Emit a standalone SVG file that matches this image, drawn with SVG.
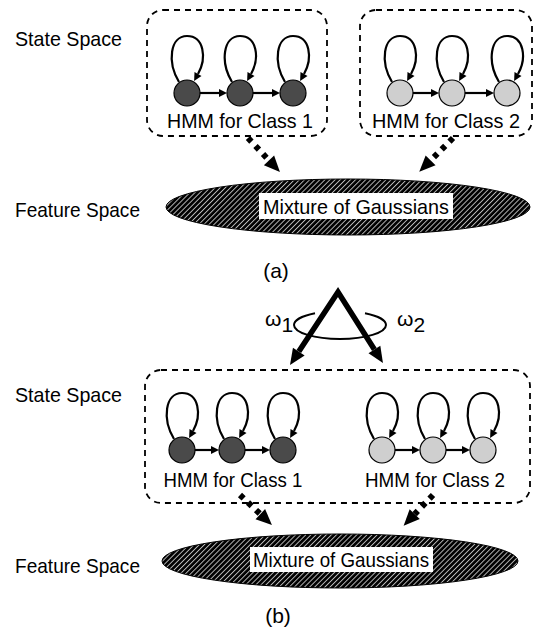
<svg xmlns="http://www.w3.org/2000/svg" width="539" height="634" viewBox="0 0 539 634">
<defs>
<pattern id="hatch" patternUnits="userSpaceOnUse" width="3.6" height="3.6" patternTransform="rotate(45)">
<rect width="3.6" height="3.6" fill="#000"/>
<line x1="0.5" y1="0" x2="0.5" y2="3.6" stroke="#fff" stroke-width="0.7"/>
</pattern>
<marker id="sm" markerUnits="userSpaceOnUse" markerWidth="10" markerHeight="10" refX="0" refY="4" orient="auto" overflow="visible">
<path d="M0,0 L8,4 L0,8 z" fill="#000"/>
</marker>
<marker id="big" markerUnits="userSpaceOnUse" markerWidth="20" markerHeight="20" refX="0" refY="7" orient="auto" overflow="visible">
<path d="M0,0 L16,7 L0,14 z" fill="#000"/>
</marker>
<marker id="bigs" markerUnits="userSpaceOnUse" markerWidth="20" markerHeight="20" refX="0" refY="7" orient="auto-start-reverse" overflow="visible">
<path d="M0,0 L16,7 L0,14 z" fill="#000"/>
</marker>
</defs>
<style>
text{font-family:"Liberation Sans",Arial,sans-serif;fill:#000}
.lbl{font-size:21px}
.box{fill:none;stroke:#000;stroke-width:1.8;stroke-dasharray:6 5}
.c1{fill:#4a4a4a;stroke:#000;stroke-width:1.2}
.c2{fill:#cfcfcf;stroke:#000;stroke-width:1.2}
.loop{fill:none;stroke:#000;stroke-width:2.2}
.tr{fill:none;stroke:#000;stroke-width:2.2}
.dash{fill:none;stroke:#000;stroke-width:6;stroke-dasharray:5 6}
.ell{fill:url(#hatch);stroke:#000;stroke-width:1}
.lab{fill:#fff;stroke:none}
.thick{fill:none;stroke:#000;stroke-width:5.5;stroke-linejoin:miter}
.ring{fill:none;stroke:#000;stroke-width:2}
</style>

<!-- side labels -->
<text class="lbl" x="15" y="46" textLength="107" lengthAdjust="spacingAndGlyphs">State Space</text>
<text class="lbl" x="15" y="217" textLength="125" lengthAdjust="spacingAndGlyphs">Feature Space</text>
<text class="lbl" x="15" y="402" textLength="107" lengthAdjust="spacingAndGlyphs">State Space</text>
<text class="lbl" x="15" y="573" textLength="125" lengthAdjust="spacingAndGlyphs">Feature Space</text>
<text class="lbl" x="276" y="278" text-anchor="middle">(a)</text>
<text class="lbl" x="278" y="623" text-anchor="middle">(b)</text>

<!-- Panel (a) -->
<g id="hmm-a1">
<rect class="box" x="147" y="10" width="180" height="126" rx="16"/>
<circle class="c1" cx="187" cy="93" r="13"/>
<circle class="c1" cx="240" cy="93" r="13"/>
<circle class="c1" cx="293" cy="93" r="13"/>
<text class="lbl" x="240" y="128" text-anchor="middle" textLength="146" lengthAdjust="spacingAndGlyphs">HMM for Class 1</text>
</g>
<g id="hmm-a2">
<rect class="box" x="360" y="10" width="172" height="126" rx="16"/>
<circle class="c2" cx="400" cy="93" r="13"/>
<circle class="c2" cx="452" cy="93" r="13"/>
<circle class="c2" cx="507" cy="93" r="13"/>
<text class="lbl" x="446" y="128" text-anchor="middle" textLength="148" lengthAdjust="spacingAndGlyphs">HMM for Class 2</text>
</g>
<g id="mog-a">
<ellipse class="ell" cx="348" cy="207" rx="182" ry="28"/>
<rect class="lab" x="259" y="193" width="194" height="26"/>
<text class="lbl" x="356" y="214" text-anchor="middle" textLength="186" lengthAdjust="spacingAndGlyphs">Mixture of Gaussians</text>
</g>

<!-- Panel (b) -->
<g id="rot-b">
<path class="ring" d="M294,325 A46,14 0 0 0 386,325"/>
<path class="ring" d="M294,325 A46,14 0 0 1 315,313.3"/>
<path class="ring" d="M365,313.3 A46,14 0 0 1 386,325"/>
<text class="lbl" x="265" y="326">ω<tspan dy="6">1</tspan></text>
<text class="lbl" x="397" y="326">ω<tspan dy="6">2</tspan></text>
</g>
<g id="state-b">
<rect class="box" x="145" y="370" width="385" height="133" rx="16"/>
<circle class="c1" cx="182" cy="450" r="13"/>
<circle class="c1" cx="232" cy="450" r="13"/>
<circle class="c1" cx="283" cy="450" r="13"/>
<circle class="c2" cx="382" cy="450" r="13"/>
<circle class="c2" cx="433" cy="450" r="13"/>
<circle class="c2" cx="483" cy="450" r="13"/>
<text class="lbl" x="233" y="487" text-anchor="middle" textLength="139" lengthAdjust="spacingAndGlyphs">HMM for Class 1</text>
<text class="lbl" x="435" y="487" text-anchor="middle" textLength="140" lengthAdjust="spacingAndGlyphs">HMM for Class 2</text>
</g>
<g id="mog-b">
<ellipse class="ell" cx="340" cy="561" rx="178" ry="27"/>
<rect class="lab" x="250" y="547" width="183" height="25"/>
<text class="lbl" x="341" y="567" text-anchor="middle" textLength="176" lengthAdjust="spacingAndGlyphs">Mixture of Gaussians</text>
</g>

<!-- connectors -->
<g id="connectors">
<!-- self loops (a) -->
<path class="loop" marker-end="url(#sm)" d="M179,82 C167,62 170,36 187,36 C204,36 207,58 198,74"/>
<path class="loop" marker-end="url(#sm)" d="M232,82 C220,62 223,36 240,36 C257,36 260,58 251,74"/>
<path class="loop" marker-end="url(#sm)" d="M285,82 C273,62 276,36 293,36 C310,36 313,58 304,74"/>
<path class="loop" marker-end="url(#sm)" d="M392,82 C380,62 383,36 400,36 C417,36 420,58 411,74"/>
<path class="loop" marker-end="url(#sm)" d="M444,82 C432,62 435,36 452,36 C469,36 472,58 463,74"/>
<path class="loop" marker-end="url(#sm)" d="M499,82 C487,62 490,36 507,36 C524,36 527,58 518,74"/>
<!-- transitions (a) -->
<path class="tr" marker-end="url(#sm)" d="M200,93 H219"/>
<path class="tr" marker-end="url(#sm)" d="M253,93 H272"/>
<path class="tr" marker-end="url(#sm)" d="M413,93 H431"/>
<path class="tr" marker-end="url(#sm)" d="M465,93 H486"/>
<!-- dashed to MoG (a) -->
<path class="dash" marker-end="url(#big)" d="M248,138 L269,160.4"/>
<path class="dash" marker-end="url(#big)" d="M453,138 L430.6,160.4"/>

<!-- big arrows (b) -->
<path class="thick" marker-start="url(#bigs)" marker-end="url(#big)" d="M298.8,351.6 L338,292 L374.4,349.5"/>
<!-- self loops (b) -->
<path class="loop" marker-end="url(#sm)" d="M174,439 C162,419 165,393 182,393 C199,393 202,415 193,431"/>
<path class="loop" marker-end="url(#sm)" d="M224,439 C212,419 215,393 232,393 C249,393 252,415 243,431"/>
<path class="loop" marker-end="url(#sm)" d="M275,439 C263,419 266,393 283,393 C300,393 303,415 294,431"/>
<path class="loop" marker-end="url(#sm)" d="M374,439 C362,419 365,393 382,393 C399,393 402,415 393,431"/>
<path class="loop" marker-end="url(#sm)" d="M425,439 C413,419 416,393 433,393 C450,393 453,415 444,431"/>
<path class="loop" marker-end="url(#sm)" d="M475,439 C463,419 466,393 483,393 C500,393 503,415 494,431"/>
<!-- transitions (b) -->
<path class="tr" marker-end="url(#sm)" d="M195,450 H211"/>
<path class="tr" marker-end="url(#sm)" d="M245,450 H262"/>
<path class="tr" marker-end="url(#sm)" d="M395,450 H412"/>
<path class="tr" marker-end="url(#sm)" d="M446,450 H462"/>
<!-- dashed to MoG (b) -->
<path class="dash" marker-end="url(#big)" d="M240,495 L260.3,514.1"/>
<path class="dash" marker-end="url(#big)" d="M433,495 L414.7,514.1"/>
</g>
</svg>
